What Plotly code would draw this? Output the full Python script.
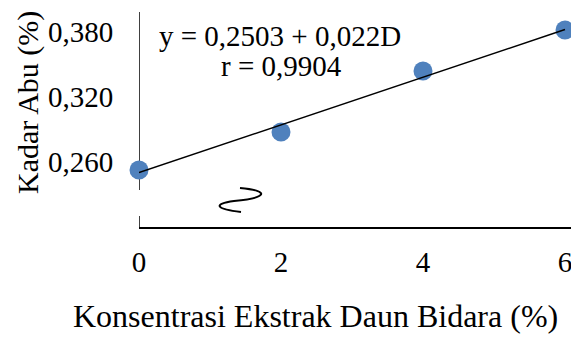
import plotly.graph_objects as go

# Data
konsentrasi = [0, 2, 4, 6]
kadar_abu = [0.2526, 0.2877, 0.3440, 0.3818]
intercept = 0.2503
slope = 0.022
x_ticks = [0, 2, 4, 6]
y_ticks = [0.260, 0.320, 0.380]
eq_text = "y = 0,2503 + 0,022D"
r_text = "r = 0,9904"
x_title = "Konsentrasi Ekstrak Daun Bidara (%)"
y_title = "Kadar Abu (%)"

FONT = "Liberation Serif, Times New Roman, serif"

# geometry helpers (plot area 139..571 px horizontally, 12..227 px vertically)
X_MAX = 432 / 71
Y_MIN, Y_MAX = 0.200, 0.3985

def px_to_data(px, py):
    return (px - 139) / 71, 0.260 - (py - 162) * 0.06 / 65

fig = go.Figure()

trend_x = [min(konsentrasi), max(konsentrasi)]
trend_y = [intercept + slope * v for v in trend_x]

fig.add_trace(go.Scatter(
    x=konsentrasi, y=kadar_abu, mode="markers",
    marker=dict(size=19, color="#4F81BD"),
    cliponaxis=False, showlegend=False))
fig.add_trace(go.Scatter(
    x=trend_x, y=trend_y, mode="lines",
    line=dict(color="black", width=1.5),
    cliponaxis=False, showlegend=False))

# broken y axis line
y_break_low = px_to_data(139, 216)[1]
y_break_high = px_to_data(139, 190)[1]
fig.add_shape(type="line", x0=0, x1=0, y0=y_break_high, y1=Y_MAX,
              line=dict(color="black", width=1.5), layer="below")
fig.add_shape(type="line", x0=0, x1=0, y0=Y_MIN, y1=y_break_low,
              line=dict(color="black", width=1.5), layer="below")

# break symbol
pts = [(240, 188), (272, 191), (266, 198), (234, 201), (212, 204), (216, 209), (241, 212)]
d = [px_to_data(*p) for p in pts]
path = "M {} {} C {} {}, {} {}, {} {} C {} {}, {} {}, {} {}".format(
    *[c for p in d for c in p])
fig.add_shape(type="path", path=path, line=dict(color="black", width=2))

fig.add_annotation(x=(280 - 139) / 71, y=px_to_data(0, 36)[1], text=eq_text,
                   xanchor="center", yanchor="middle",
                   showarrow=False, font=dict(family=FONT, size=29, color="black"))
fig.add_annotation(x=(281 - 139) / 71, y=px_to_data(0, 66)[1], text=r_text,
                   xanchor="center", yanchor="middle",
                   showarrow=False, font=dict(family=FONT, size=29, color="black"))

fig.add_annotation(xref="paper", yref="paper", x=(315 - 139) / 432, y=(227 - 316) / 215,
                   xanchor="center", yanchor="middle",
                   text=x_title, showarrow=False,
                   font=dict(family=FONT, size=32, color="black"))
fig.add_annotation(xref="paper", yref="paper", x=(28 - 139) / 432, y=(227 - 103) / 215,
                   xanchor="center", yanchor="middle",
                   text=y_title, showarrow=False, textangle=-90,
                   font=dict(family=FONT, size=30, color="black"))

fig.update_layout(
    width=571, height=340,
    margin=dict(l=139, r=0, t=12, b=113),
    paper_bgcolor="white", plot_bgcolor="white",
    separators=",.",
    xaxis=dict(range=[0, X_MAX], tickvals=x_ticks, showgrid=False, zeroline=False,
               showline=True, linecolor="black", linewidth=1.5,
               ticks="outside", ticklen=8, tickcolor="rgba(0,0,0,0)",
               ticklabeloverflow="allow",
               tickfont=dict(family=FONT, size=29, color="black")),
    yaxis=dict(range=[Y_MIN, Y_MAX], tickvals=y_ticks, tickformat=".3f",
               showgrid=False, zeroline=False, showline=False,
               ticks="outside", ticklen=19, tickcolor="rgba(0,0,0,0)",
               tickfont=dict(family=FONT, size=29, color="black")),
)

fig.write_html("out.html")
